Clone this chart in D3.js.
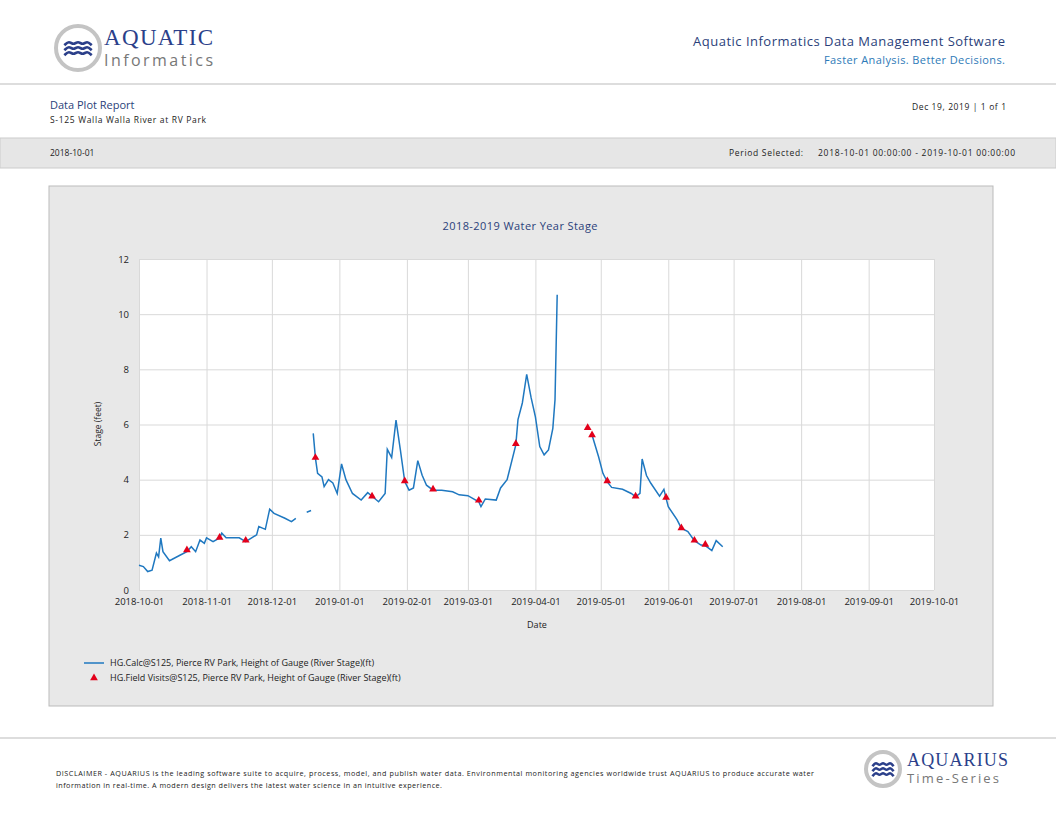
<!DOCTYPE html>
<html><head><meta charset="utf-8">
<script src="https://cdn.jsdelivr.net/npm/d3@7"></script>
<style>body{margin:0;background:#fff;font-family:"Open Sans","DejaVu Sans",sans-serif}</style>
</head><body>
<svg id="c" width="1056" height="816"></svg>
<script>
// Stage series; null marks a gap in the record
var stage = [
  ['2018-10-01',0.9],['2018-10-03',0.85],['2018-10-05',0.67],['2018-10-07',0.72],['2018-10-09',1.34],
  ['2018-10-10',1.2],['2018-10-11',1.88],['2018-10-12',1.39],['2018-10-15',1.06],['2018-10-20',1.27],
  ['2018-10-23',1.39],['2018-10-25',1.57],['2018-10-27',1.39],['2018-10-29',1.81],['2018-10-31',1.69],
  ['2018-11-01',1.89],['2018-11-04',1.75],['2018-11-07',1.89],['2018-11-08',2.06],['2018-11-10',1.89],
  ['2018-11-16',1.89],['2018-11-19',1.75],['2018-11-24',2.0],['2018-11-25',2.3],['2018-11-28',2.2],
  ['2018-11-30',2.93],['2018-12-02',2.78],['2018-12-07',2.6],['2018-12-10',2.48],['2018-12-12',2.6],
  ['2018-12-14',null],
  ['2018-12-17',2.82],['2018-12-19',2.88],
  ['2018-12-19T12',null],
  ['2018-12-20',5.68],['2018-12-21',4.78],['2018-12-22',4.23],['2018-12-24',4.1],['2018-12-25',3.75],
  ['2018-12-27',4.0],['2018-12-29',3.88],['2018-12-31',3.5],['2019-01-02',4.57],['2019-01-04',4.0],
  ['2019-01-07',3.5],['2019-01-11',3.26],['2019-01-14',3.53],['2019-01-16',3.4],['2019-01-19',3.2],
  ['2019-01-22',3.5],['2019-01-23',5.1],['2019-01-25',4.8],['2019-01-27',6.16],['2019-01-29',5.08],
  ['2019-01-31',3.93],['2019-02-02',3.62],['2019-02-04',3.7],['2019-02-06',4.69],['2019-02-08',4.16],
  ['2019-02-10',3.8],['2019-02-13',3.62],['2019-02-17',3.62],['2019-02-22',3.56],['2019-02-25',3.45],
  ['2019-03-01',3.42],['2019-03-06',3.2],['2019-03-07',3.02],['2019-03-09',3.3],['2019-03-14',3.26],
  ['2019-03-16',3.7],['2019-03-19',4.0],['2019-03-23',5.26],['2019-03-24',6.18],['2019-03-26',6.78],
  ['2019-03-28',7.82],['2019-03-30',6.98],['2019-04-01',6.28],['2019-04-03',5.2],['2019-04-05',4.9],
  ['2019-04-07',5.08],['2019-04-09',5.86],['2019-04-10',6.9],['2019-04-11',10.7],
  ['2019-04-15',null],
  ['2019-04-27',5.62],['2019-04-30',4.83],['2019-05-02',4.23],['2019-05-04',3.92],['2019-05-06',3.72],
  ['2019-05-11',3.65],['2019-05-15',3.5],['2019-05-17',3.38],['2019-05-19',3.5],['2019-05-20',4.75],
  ['2019-05-22',4.15],['2019-05-24',3.87],['2019-05-28',3.4],['2019-05-30',3.65],['2019-05-31',3.32],
  ['2019-06-01',3.02],['2019-06-05',2.55],['2019-06-07',2.24],['2019-06-10',2.12],['2019-06-13',1.79],
  ['2019-06-16',1.63],['2019-06-18',1.61],['2019-06-21',1.43],['2019-06-23',1.79],['2019-06-26',1.57]
];
var visits = [
  ['2018-10-23',1.45],['2018-11-07',1.9],['2018-11-19',1.8],['2018-12-21',4.8],['2019-01-16',3.4],
  ['2019-01-31',3.95],['2019-02-13',3.65],['2019-03-06',3.25],['2019-03-23',5.3],['2019-04-25',5.88],
  ['2019-04-27',5.62],['2019-05-04',3.95],['2019-05-17',3.4],['2019-05-31',3.35],['2019-06-07',2.25],
  ['2019-06-13',1.8],['2019-06-18',1.65]
];
var yTicks = [0,2,4,6,8,10,12];

var pd = function (s) { return new Date(s + (s.length > 10 ? ':00' : 'T00:00')); };
var svg = d3.select('#c');
var navy = '#2b3f7a';

// header
var logo = function (cx, cy, r) {
  svg.append('circle').attr('cx', cx).attr('cy', cy).attr('r', r).attr('fill', '#fff')
    .attr('stroke', '#c4c4c4').attr('stroke-width', 4);
  [-5, 0, 5].forEach(function (dy) {
    svg.append('path').attr('fill', 'none').attr('stroke', '#2b3f8a').attr('stroke-width', 2.6)
      .attr('d', d3.line().curve(d3.curveBasis)(d3.range(0, 7).map(function (i) {
        return [cx - r * 0.62 + i * r * 0.207, cy + dy + (i % 2 ? -2.2 : 2.2)];
      })));
  });
};
logo(78, 48, 22);
svg.append('text').attr('x', 104).attr('y', 45).attr('font-family', 'Liberation Serif,serif').attr('font-size', 23).attr('fill', '#2b3f8a').attr('textLength', 109).text('AQUATIC');
svg.append('text').attr('x', 104).attr('y', 66).attr('font-size', 16).attr('fill', '#777').attr('textLength', 109).text('Informatics');
svg.append('text').attr('x', 1005).attr('y', 46).attr('text-anchor', 'end').attr('font-size', 13).attr('fill', navy).attr('textLength', 312).text('Aquatic Informatics Data Management Software');
svg.append('text').attr('x', 1005).attr('y', 64).attr('text-anchor', 'end').attr('font-size', 11).attr('fill', '#2e7ab8').attr('textLength', 181).text('Faster Analysis. Better Decisions.');
svg.append('line').attr('x1', 0).attr('x2', 1056).attr('y1', 84).attr('y2', 84).attr('stroke', '#bbb');
svg.append('text').attr('x', 50).attr('y', 109).attr('font-size', 11).attr('fill', navy).text('Data Plot Report');
svg.append('text').attr('x', 50).attr('y', 123).attr('font-size', 8.5).attr('fill', '#222').attr('textLength', 156).text('S-125 Walla Walla River at RV Park');
svg.append('text').attr('x', 1006).attr('y', 110).attr('text-anchor', 'end').attr('font-size', 8.5).attr('fill', '#222').attr('textLength', 94).text('Dec 19, 2019 | 1 of 1');
svg.append('rect').attr('x', 0).attr('y', 138).attr('width', 1056).attr('height', 30).attr('fill', '#e6e6e6').attr('stroke', '#ccc');
svg.append('text').attr('x', 50).attr('y', 156).attr('font-size', 8.5).attr('fill', '#222').text('2018-10-01');
svg.append('text').attr('x', 803).attr('y', 156).attr('text-anchor', 'end').attr('font-size', 8.5).attr('fill', '#222').attr('textLength', 74).text('Period Selected:');
svg.append('text').attr('x', 1015).attr('y', 156).attr('text-anchor', 'end').attr('font-size', 8.5).attr('fill', '#222').attr('textLength', 197).text('2018-10-01 00:00:00 - 2019-10-01 00:00:00');

// chart frame
svg.append('rect').attr('x', 49).attr('y', 186).attr('width', 944).attr('height', 520).attr('fill', '#e8e8e8').attr('stroke', '#bbb');
svg.append('text').attr('x', 520).attr('y', 230).attr('text-anchor', 'middle').attr('font-size', 11).attr('fill', navy).attr('textLength', 155).text('2018-2019 Water Year Stage');

var x = d3.scaleTime().domain([pd('2018-10-01'), pd('2019-10-01')]).range([139, 934]);
var y = d3.scaleLinear().domain([0, 12]).range([590, 259]);
svg.append('rect').attr('x', 139).attr('y', 259).attr('width', 795).attr('height', 331).attr('fill', '#fff');
var months = d3.timeMonth.range(pd('2018-10-01'), pd('2019-10-02'));
var gx = svg.append('g').attr('transform', 'translate(0,590)')
  .call(d3.axisBottom(x).tickValues(months).tickFormat(d3.timeFormat('%Y-%m-%d')).tickSize(-331).tickPadding(8));
var gy = svg.append('g').attr('transform', 'translate(139,0)')
  .call(d3.axisLeft(y).tickValues(yTicks).tickSize(-795).tickPadding(10));
[gx, gy].forEach(function (g) {
  g.select('.domain').remove();
  g.selectAll('line').attr('stroke', '#d9d9d9');
  g.selectAll('text').attr('font-size', 9.5).attr('fill', '#222').attr('font-family', 'Open Sans,sans-serif');
});
svg.append('text').attr('x', 537).attr('y', 628).attr('text-anchor', 'middle').attr('font-size', 9).attr('fill', '#222').text('Date');
svg.append('text').attr('transform', 'translate(101,424) rotate(-90)').attr('text-anchor', 'middle').attr('font-size', 8.5).attr('fill', '#222').text('Stage (feet)');

var line = d3.line().defined(function (d) { return d[1] !== null; })
  .x(function (d) { return x(pd(d[0])); }).y(function (d) { return y(d[1]); });
svg.append('path').datum(stage).attr('d', line).attr('fill', 'none').attr('stroke', '#1f78c0').attr('stroke-width', 1.5);
var tri = d3.symbol().type(d3.symbolTriangle).size(26);
svg.selectAll('.fv').data(visits).enter().append('path').attr('d', tri).attr('fill', '#e3001b')
  .attr('transform', function (d) { return 'translate(' + x(pd(d[0])) + ',' + y(d[1]) + ')'; });

// legend
svg.append('line').attr('x1', 84).attr('x2', 104).attr('y1', 663).attr('y2', 663).attr('stroke', '#1f78c0').attr('stroke-width', 1.5);
svg.append('path').attr('d', tri).attr('fill', '#e3001b').attr('transform', 'translate(94,678)');
svg.append('text').attr('x', 110).attr('y', 666).attr('font-size', 9).attr('fill', '#222').text('HG.Calc@S125, Pierce RV Park, Height of Gauge (River Stage)(ft)');
svg.append('text').attr('x', 110).attr('y', 681).attr('font-size', 9).attr('fill', '#222').text('HG.Field Visits@S125, Pierce RV Park, Height of Gauge (River Stage)(ft)');

// footer
svg.append('line').attr('x1', 0).attr('x2', 1056).attr('y1', 738).attr('y2', 738).attr('stroke', '#bbb');
svg.append('text').attr('x', 56).attr('y', 776).attr('font-size', 7.2).attr('fill', '#222').attr('textLength', 758).text('DISCLAIMER - AQUARIUS is the leading software suite to acquire, process, model, and publish water data. Environmental monitoring agencies worldwide trust AQUARIUS to produce accurate water');
svg.append('text').attr('x', 56).attr('y', 788).attr('font-size', 7.2).attr('fill', '#222').attr('textLength', 386).text('information in real-time. A modern design delivers the latest water science in an intuitive experience.');
logo(883, 769, 17);
svg.append('text').attr('x', 907).attr('y', 766).attr('font-family', 'Liberation Serif,serif').attr('font-size', 18).attr('fill', '#2b3f8a').attr('textLength', 101).text('AQUARIUS');
svg.append('text').attr('x', 907).attr('y', 783).attr('font-size', 13).attr('fill', '#777').attr('textLength', 92).text('Time-Series');
</script>
</body></html>
